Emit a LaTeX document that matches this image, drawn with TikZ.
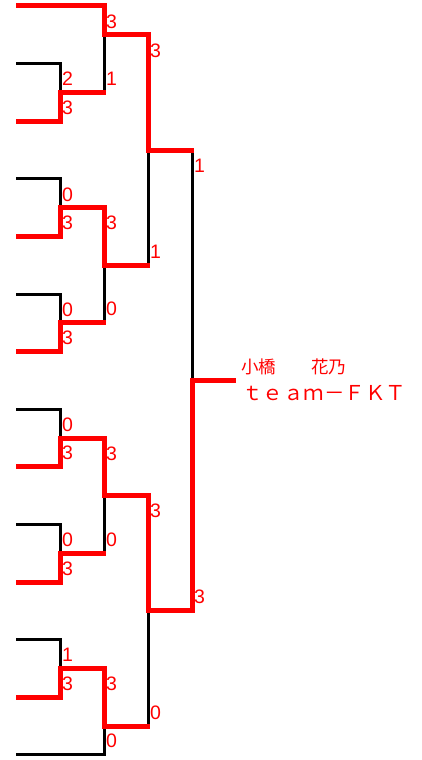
\documentclass[tikz,border=0pt]{standalone}
\usepackage{fontspec}
\setmainfont{Liberation Sans}
\newfontfamily\jpfont{Noto Sans CJK JP}
\usepackage{tikz}

\begin{document}
\begin{tikzpicture}[line join=miter,x=1pt,y=-1pt,
	lose/.style={line width=3pt,black},
	win/.style={line width=5pt,red},
	stub/.style={win,shorten >=-1.5pt},
	score/.style={text=red,inner sep=0pt,font=\fontsize{19.5}{20}\selectfont},
	scoretop/.style={score,anchor=north west},
	scorebot/.style={score,anchor=south west}]
		\useasboundingbox (0,0) rectangle (421,760);
		% entries
		\coordinate (p0) at (16,6);
		\coordinate (p1) at (16,63.6);
		\coordinate (p2) at (16,121.2);
		\coordinate (p3) at (16,178.8);
		\coordinate (p4) at (16,236.4);
		\coordinate (p5) at (16,294);
		\coordinate (p6) at (16,351.6);
		\coordinate (p7) at (16,409.2);
		\coordinate (p8) at (16,466.8);
		\coordinate (p9) at (16,524.4);
		\coordinate (p10) at (16,582);
		\coordinate (p11) at (16,639.6);
		\coordinate (p12) at (16,697.2);
		\coordinate (p13) at (16,754.8);
		% matches
		\coordinate (a1) at (60,92.4);
		\coordinate (a2) at (60,207.6);
		\coordinate (a3) at (60,322.8);
		\coordinate (a4) at (60,438);
		\coordinate (a5) at (60,553.2);
		\coordinate (a6) at (60,668.4);
		\coordinate (b1) at (104,34.8);
		\coordinate (b2) at (104,265.2);
		\coordinate (b3) at (104,495.6);
		\coordinate (b4) at (104,726);
		\coordinate (c1) at (148,150);
		\coordinate (c2) at (148,610.8);
		\coordinate (d) at (192,380.4);
		\coordinate (e) at (236,380.4);
		% lost
		\draw [lose] (p1) -| (a1);
		\draw [lose] (p3) -| (a2);
		\draw [lose] (p5) -| (a3);
		\draw [lose] (p7) -| (a4);
		\draw [lose] (p9) -| (a5);
		\draw [lose] (p11) -| (a6);
		\draw [lose] (p13) -| (b4);
		\draw [lose] (a1 -| b1) -- (b1);
		\draw [lose] (a3 -| b2) -- (b2);
		\draw [lose] (a5 -| b3) -- (b3);
		\draw [lose] (b2 -| c1) -- (c1);
		\draw [lose] (b4 -| c2) -- (c2);
		\draw [lose] (c1 -| d) -- (d);
		% won
		\draw [stub] (p0) -| (b1) -| (c1) -- (c1 -| d);
		\draw [stub] (p2) -| (a1) -- (a1 -| b1);
		\draw [stub] (p4) -| (a2) -| (b2) -- (b2 -| c1);
		\draw [stub] (p6) -| (a3) -- (a3 -| b2);
		\draw [win] (p8) -| (a4) -| (b3) -| (c2) -| (d) -- (e);
		\draw [stub] (p10) -| (a5) -- (a5 -| b3);
		\draw [stub] (p12) -| (a6) -| (b4) -- (b4 -| c2);
		% scores
		\node [scoretop] (s1t) at (62,72.1) {2};
		\node [scorebot] (s1b) at (62,114.7) {3};
		\node [scoretop] (s2t) at (62,187.3) {0};
		\node [scorebot] (s2b) at (62,229.9) {3};
		\node [scoretop] (s3t) at (62,302.5) {0};
		\node [scorebot] (s3b) at (62,345.1) {3};
		\node [scoretop] (s4t) at (62,417.7) {0};
		\node [scorebot] (s4b) at (62,460.3) {3};
		\node [scoretop] (s5t) at (62,532.9) {0};
		\node [scorebot] (s5b) at (62,575.5) {3};
		\node [scoretop] (s6t) at (62,648.1) {1};
		\node [scorebot] (s6b) at (62,690.7) {3};
		\node [scoretop] (t1t) at (106,14.5) {3};
		\node [scorebot] (t1b) at (106,85.9) {1};
		\node [scoretop] (t2t) at (106,216.1) {3};
		\node [scorebot] (t2b) at (106,316.3) {0};
		\node [scoretop] (t3t) at (106,446.5) {3};
		\node [scorebot] (t3b) at (106,546.7) {0};
		\node [scoretop] (t4t) at (106,676.9) {3};
		\node [scorebot] (t4b) at (106,748.3) {0};
		\node [scoretop] (u1t) at (150,43.3) {3};
		\node [scorebot] (u1b) at (150,258.7) {1};
		\node [scoretop] (u2t) at (150,504.1) {3};
		\node [scorebot] (u2b) at (150,719.5) {0};
		\node [scoretop] (ft) at (194,158.5) {1};
		\node [scorebot] (fb) at (194,604.3) {3};
		% champion
		\node [anchor=base west,inner sep=0pt,text=red,font=\jpfont\fontsize{17.5}{18}\selectfont] (name) at (241,373.5) {小橋　　花乃};
		\node [anchor=base west,inner sep=0pt,text=red,font=\jpfont\fontsize{20.5}{21}\selectfont] (team) at (242,400) {ｔｅａｍ－ＦＫＴ};
\end{tikzpicture}
\end{document}
